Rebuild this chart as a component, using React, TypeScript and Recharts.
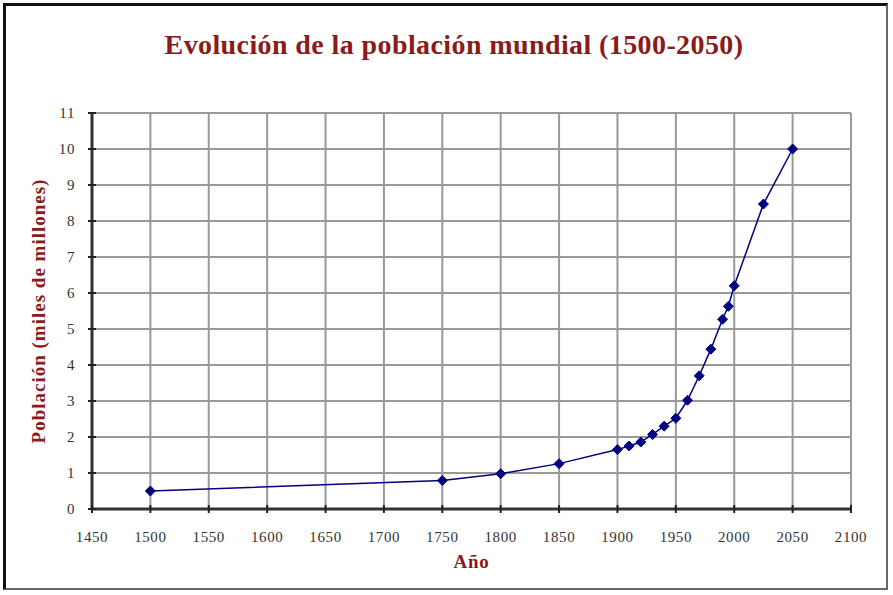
import React from 'react';
import { LineChart, Line, XAxis, YAxis, CartesianGrid } from 'recharts';

// Población mundial (miles de millones) por año
const years = [1500, 1750, 1800, 1850, 1900, 1910, 1920, 1930, 1940, 1950, 1960, 1970, 1980, 1990, 1995, 2000, 2025, 2050];
const population = [0.5, 0.79, 0.98, 1.26, 1.65, 1.75, 1.86, 2.07, 2.3, 2.52, 3.02, 3.7, 4.44, 5.27, 5.63, 6.2, 8.47, 10.0];

const xTicks = [1450, 1500, 1550, 1600, 1650, 1700, 1750, 1800, 1850, 1900, 1950, 2000, 2050, 2100];
const yTicks = [0, 1, 2, 3, 4, 5, 6, 7, 8, 9, 10, 11];

const title = 'Evolución de la población mundial (1500-2050)';
const xLabel = 'Año';
const yLabel = 'Población (miles de millones)';

const FONT = '"Liberation Serif", "DejaVu Serif", serif';
const RED = '#8b1a1a';
const NAVY = '#000080';

const data = years.map((y, i) => ({ year: y, pop: population[i] }));

const Diamond = (props: any) => {
    const { cx, cy } = props;
    if (cx == null || cy == null) return null;
    const r = 5;
    return (
        <polygon
            points={`${cx},${cy - r} ${cx + r},${cy} ${cx},${cy + r} ${cx - r},${cy}`}
            fill={NAVY}
            stroke={NAVY}
        />
    );
};

// ticks crossing the axis line, label below
const XTick = (props: any) => {
    const { x, y, payload } = props;
    return (
        <g>
            <line x1={x} x2={x} y1={y - 4} y2={y + 4} stroke="#222" strokeWidth={2} />
            <text x={x} y={y + 33} textAnchor="middle" fontFamily={FONT} fontSize={15} letterSpacing={0.6} fill="#333">
                {payload.value}
            </text>
        </g>
    );
};

const YTick = (props: any) => {
    const { x, y, payload } = props;
    return (
        <g>
            <line x1={x - 4} x2={x + 4} y1={y} y2={y} stroke="#222" strokeWidth={2} />
            <text x={x - 17} y={y + 5} textAnchor="end" fontFamily={FONT} fontSize={15} letterSpacing={0.6} fill="#333">
                {payload.value}
            </text>
        </g>
    );
};

export default function App() {
    return (
        <div style={{ position: 'absolute', left: 0, top: 0, width: 893, height: 595, background: '#fff' }}>
            <style>{'body{margin:0}'}</style>
            <div
                style={{
                    position: 'absolute', left: 3, top: 3, width: 885, height: 587,
                    borderLeft: '3px solid #111', borderTop: '3px solid #111',
                    borderRight: '2px solid #666', borderBottom: '2px solid #666',
                    boxSizing: 'border-box', pointerEvents: 'none',
                }}
            />
            <div
                style={{
                    position: 'absolute', left: 0, top: 29, width: 908, textAlign: 'center',
                    fontFamily: FONT, fontWeight: 'bold', fontSize: 28, letterSpacing: 0.4, color: RED,
                    lineHeight: '32px',
                }}
            >
                {title}
            </div>
            <LineChart width={893} height={595} data={data} margin={{ top: 113, right: 42, bottom: 0, left: 0 }}>
                <CartesianGrid stroke="#999" strokeWidth={2} />
                <XAxis
                    dataKey="year"
                    type="number"
                    domain={[1450, 2100]}
                    ticks={xTicks}
                    interval={0}
                    height={86}
                    tickSize={0}
                    tickMargin={0}
                    tickLine={false}
                    axisLine={{ stroke: '#333', strokeWidth: 3 }}
                    tick={<XTick />}
                    label={{ value: xLabel, position: 'insideBottom', offset: 27, fill: RED, fontFamily: FONT, fontWeight: 'bold', fontSize: 19, letterSpacing: 0.8 }}
                />
                <YAxis
                    type="number"
                    domain={[0, 11]}
                    ticks={yTicks}
                    interval={0}
                    width={92}
                    tickSize={0}
                    tickMargin={0}
                    tickLine={false}
                    axisLine={{ stroke: '#333', strokeWidth: 3 }}
                    tick={<YTick />}
                    label={{ value: yLabel, angle: -90, position: 'insideLeft', offset: 38, fill: RED, fontFamily: FONT, fontWeight: 'bold', fontSize: 19, letterSpacing: 1, style: { textAnchor: 'middle' } }}
                />
                <Line
                    type="linear"
                    dataKey="pop"
                    stroke={NAVY}
                    strokeWidth={1.5}
                    dot={<Diamond />}
                    activeDot={false}
                    isAnimationActive={false}
                />
            </LineChart>
        </div>
    );
}
